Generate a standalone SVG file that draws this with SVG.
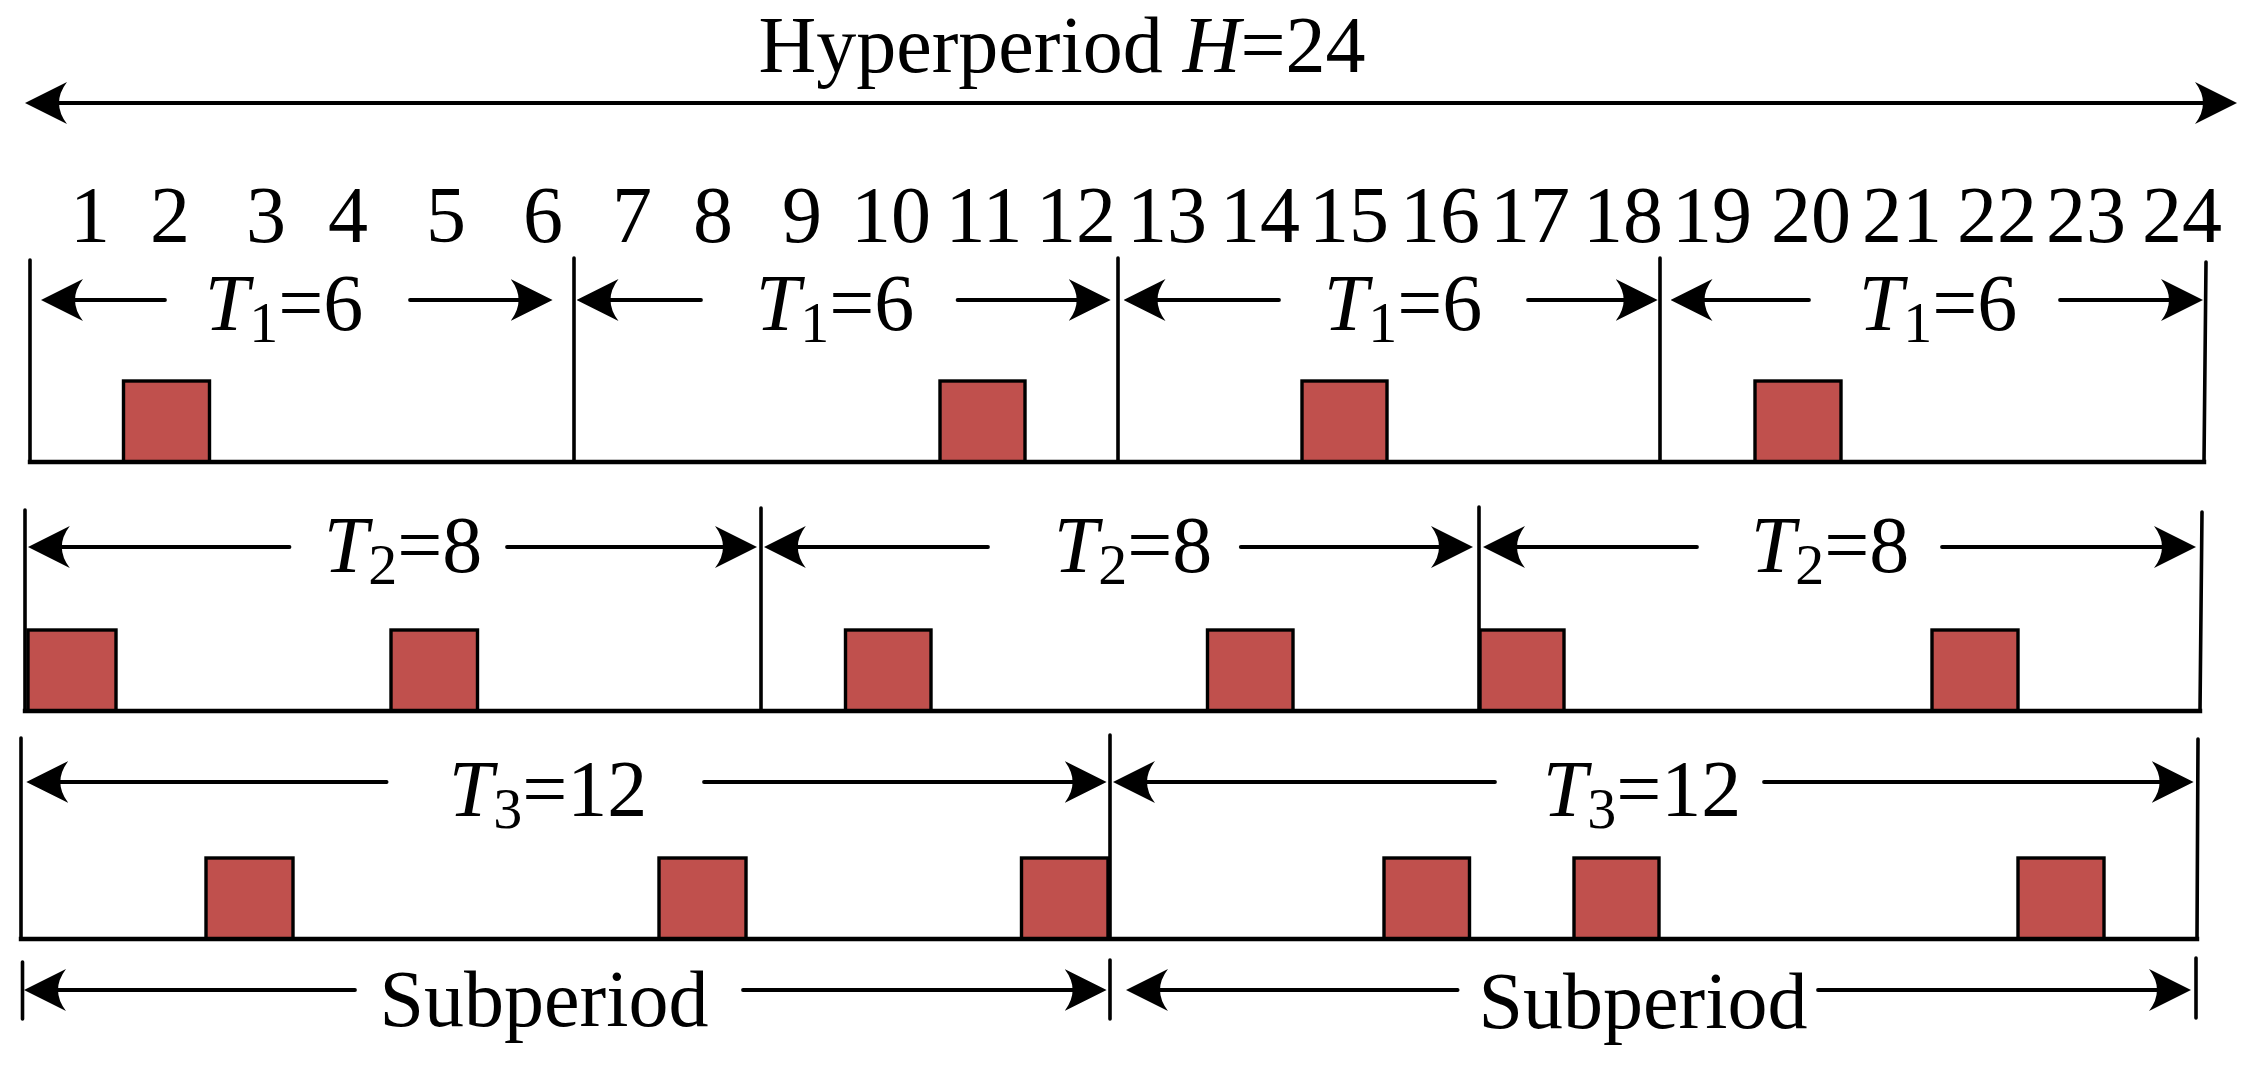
<svg xmlns="http://www.w3.org/2000/svg" width="2254" height="1068" viewBox="0 0 2254 1068">
<style>
text{font-family:"Liberation Serif","Times New Roman",serif;font-size:80px;fill:#000}
.it{font-style:italic}
.sub{font-size:58px}
.arr{stroke:#000;stroke-width:3.8;stroke-linecap:round;fill:none;marker-end:url(#ah)}
.ln{stroke:#000;stroke-width:3.6;stroke-linecap:round;fill:none}
.base{stroke:#000;stroke-width:4.4;stroke-linecap:square;fill:none}
.job{fill:#C0504D;stroke:#000;stroke-width:3.4}
</style>
<defs>
<marker id="ah" viewBox="0 -22 42 44" markerWidth="42" markerHeight="44" refX="12" refY="0" orient="auto-start-reverse" markerUnits="userSpaceOnUse">
<path d="M42,0 L0,-21 Q16,0 0,21 Z" fill="#000"/>
</marker>
</defs>
<rect width="2254" height="1068" fill="#fff"/>

<g id="title">
<text x="1062" y="72" text-anchor="middle">Hyperperiod <tspan class="it">H</tspan>=24</text>
</g>

<g id="time-axis" text-anchor="middle">
<text x="90" y="242">1</text>
<text x="170" y="242">2</text>
<text x="266" y="242">3</text>
<text x="348" y="242">4</text>
<text x="446" y="242">5</text>
<text x="543" y="242">6</text>
<text x="632" y="242">7</text>
<text x="713" y="242">8</text>
<text x="802" y="242">9</text>
<text x="891" y="242">10</text>
<text x="984" y="242">11</text>
<text x="1076" y="242">12</text>
<text x="1167" y="242">13</text>
<text x="1260" y="242">14</text>
<text x="1349" y="242">15</text>
<text x="1440" y="242">16</text>
<text x="1530" y="242">17</text>
<text x="1623" y="242">18</text>
<text x="1712" y="242">19</text>
<text x="1811" y="242">20</text>
<text x="1902" y="242">21</text>
<text x="1997" y="242">22</text>
<text x="2086" y="242">23</text>
<text x="2182" y="242">24</text>
</g>

<g id="task1">
<rect class="job" x="123.5" y="381" width="86" height="81"/>
<rect class="job" x="940" y="381" width="85" height="81"/>
<rect class="job" x="1302" y="381" width="85" height="81"/>
<rect class="job" x="1755" y="381" width="86" height="81"/>
<line class="ln" x1="30" y1="260" x2="30" y2="462"/>
<line class="ln" x1="574" y1="258" x2="574" y2="462"/>
<line class="ln" x1="1118" y1="258" x2="1118" y2="462"/>
<line class="ln" x1="1660" y1="258" x2="1660" y2="462"/>
<line class="ln" x1="2206" y1="262" x2="2204" y2="462"/>
<line class="base" x1="30" y1="462" x2="2204" y2="462"/>
<text x="284" y="330" text-anchor="middle"><tspan class="it">T</tspan><tspan class="sub" dy="12">1</tspan><tspan dy="-12">=6</tspan></text>
<text x="835" y="330" text-anchor="middle"><tspan class="it">T</tspan><tspan class="sub" dy="12">1</tspan><tspan dy="-12">=6</tspan></text>
<text x="1403" y="330" text-anchor="middle"><tspan class="it">T</tspan><tspan class="sub" dy="12">1</tspan><tspan dy="-12">=6</tspan></text>
<text x="1938" y="330" text-anchor="middle"><tspan class="it">T</tspan><tspan class="sub" dy="12">1</tspan><tspan dy="-12">=6</tspan></text>
</g>

<g id="task2">
<rect class="job" x="28" y="630" width="88" height="81"/>
<rect class="job" x="391" y="630" width="86.5" height="81"/>
<rect class="job" x="845.5" y="630" width="85.5" height="81"/>
<rect class="job" x="1207.5" y="630" width="85.5" height="81"/>
<rect class="job" x="1480" y="630" width="84" height="81"/>
<rect class="job" x="1932" y="630" width="86" height="81"/>
<line class="ln" x1="25" y1="510" x2="25" y2="711"/>
<line class="ln" x1="761" y1="508" x2="761" y2="711"/>
<line class="ln" x1="1479" y1="507" x2="1479" y2="711"/>
<line class="ln" x1="2202" y1="512" x2="2200" y2="711"/>
<line class="base" x1="25" y1="711" x2="2200" y2="711"/>
<text x="403" y="572" text-anchor="middle"><tspan class="it">T</tspan><tspan class="sub" dy="12">2</tspan><tspan dy="-12">=8</tspan></text>
<text x="1133" y="572" text-anchor="middle"><tspan class="it">T</tspan><tspan class="sub" dy="12">2</tspan><tspan dy="-12">=8</tspan></text>
<text x="1830" y="572" text-anchor="middle"><tspan class="it">T</tspan><tspan class="sub" dy="12">2</tspan><tspan dy="-12">=8</tspan></text>
</g>

<g id="task3">
<rect class="job" x="206" y="858" width="87" height="81"/>
<rect class="job" x="659" y="858" width="87" height="81"/>
<rect class="job" x="1021.5" y="858" width="86.5" height="81"/>
<rect class="job" x="1384" y="858" width="85.5" height="81"/>
<rect class="job" x="1574" y="858" width="85" height="81"/>
<rect class="job" x="2018" y="858" width="86" height="81"/>
<line class="ln" x1="21" y1="738" x2="21" y2="939"/>
<line class="ln" x1="1110" y1="735" x2="1110" y2="939"/>
<line class="ln" x1="2198" y1="739" x2="2197" y2="939"/>
<line class="base" x1="21" y1="939" x2="2197" y2="939"/>
<text x="548" y="816" text-anchor="middle"><tspan class="it">T</tspan><tspan class="sub" dy="12">3</tspan><tspan dy="-12">=12</tspan></text>
<text x="1642" y="816" text-anchor="middle"><tspan class="it">T</tspan><tspan class="sub" dy="12">3</tspan><tspan dy="-12">=12</tspan></text>
</g>

<g id="subperiods">
<line class="ln" x1="22.5" y1="962" x2="22.5" y2="1019"/>
<line class="ln" x1="1110" y1="960" x2="1110" y2="1019"/>
<line class="ln" x1="2196" y1="958" x2="2196" y2="1018"/>
<text x="544" y="1026" text-anchor="middle">Subperiod</text>
<text x="1643" y="1028" text-anchor="middle">Subperiod</text>
</g>

<g id="connectors">
<line class="arr" x1="55" y1="103" x2="2207" y2="103" style="marker-start:url(#ah)"/>

<line class="arr" x1="165" y1="300" x2="71" y2="300"/>
<line class="arr" x1="410" y1="300" x2="522.6" y2="300"/>
<line class="arr" x1="701" y1="300" x2="606.5" y2="300"/>
<line class="arr" x1="957.6" y1="300" x2="1080.7" y2="300"/>
<line class="arr" x1="1279" y1="300" x2="1153.5" y2="300"/>
<line class="arr" x1="1528" y1="300" x2="1627.7" y2="300"/>
<line class="arr" x1="1809" y1="300" x2="1700.5" y2="300"/>
<line class="arr" x1="2060" y1="300" x2="2173" y2="300"/>

<line class="arr" x1="289.5" y1="547" x2="57.8" y2="547"/>
<line class="arr" x1="507" y1="547" x2="727" y2="547"/>
<line class="arr" x1="988" y1="547" x2="793.8" y2="547"/>
<line class="arr" x1="1240.8" y1="547" x2="1443" y2="547"/>
<line class="arr" x1="1697" y1="547" x2="1513" y2="547"/>
<line class="arr" x1="1942" y1="547" x2="2166" y2="547"/>

<line class="arr" x1="386.6" y1="782" x2="56.3" y2="782"/>
<line class="arr" x1="704" y1="782" x2="1076.6" y2="782"/>
<line class="arr" x1="1495" y1="782" x2="1143" y2="782"/>
<line class="arr" x1="1764" y1="782" x2="2163.6" y2="782"/>

<line class="arr" x1="355" y1="990" x2="54" y2="990"/>
<line class="arr" x1="743" y1="990" x2="1076.6" y2="990"/>
<line class="arr" x1="1457.6" y1="990" x2="1156" y2="990"/>
<line class="arr" x1="1818" y1="990" x2="2161" y2="990"/>
</g>
</svg>
